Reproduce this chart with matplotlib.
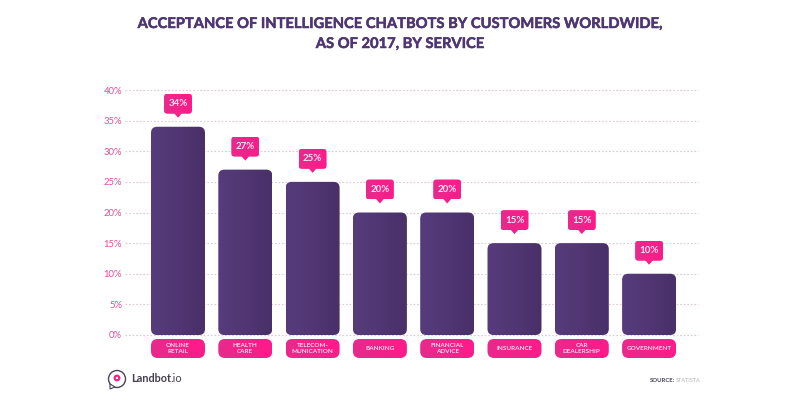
import numpy as np
import matplotlib
matplotlib.use('Agg')
import matplotlib.pyplot as plt
import matplotlib.patheffects as pe
from matplotlib.patches import FancyBboxPatch, Polygon, Circle
from matplotlib.colors import LinearSegmentedColormap

plt.rcParams['font.family'] = ['Lato', 'DejaVu Sans']

# Dados do grafico
categorias = ['ONLINE\nRETAIL', 'HEALTH\nCARE', 'TELECOM-\nMUNICATION', 'BANKING',
              'FINANCIAL\nADVICE', 'INSURANCE', 'CAR\nDEALERSHIP', 'GOVERNMENT']
valores = [34, 27, 25, 20, 20, 15, 15, 10]
rotulos = ['34%', '27%', '25%', '20%', '20%', '15%', '15%', '10%']
ticks_y = [0, 5, 10, 15, 20, 25, 30, 35, 40]
ticks_y_rotulos = ['0%', '5%', '10%', '15%', '20%', '25%', '30%', '35%', '40%']

ROXO = '#4f3672'
ROSA = '#f0218a'
W, H = 800, 400

cmap_barra = LinearSegmentedColormap.from_list('barra', ['#573c7c', '#4a3069'])
cmap_rosa = LinearSegmentedColormap.from_list('rosa', ['#e82a8c', '#ff1a8a'])
grad = np.linspace(0, 1, 64).reshape(1, -1)

fig = plt.figure(figsize=(8, 4), dpi=100, facecolor='white')

# Eixo principal: 0% em y=335px, 40% em y=90px, grade de 125 a 698px
ax = fig.add_axes([125 / W, 1 - 335 / H, (698 - 125) / W, (335 - 90) / H])
px_x = 67.3
px_y = (335 - 90) / 40
aspecto = px_x / px_y
xlim = (-(178 - 125) / px_x, (698 - 178) / px_x)


# Retangulo arredondado preenchido com gradiente horizontal
def caixa_gradiente(x0, y0, larg, alt, raio, cmap, zorder):
    caixa = FancyBboxPatch((x0, y0), larg, alt, boxstyle=f'round,pad=0,rounding_size={raio}',
                           mutation_aspect=aspecto, linewidth=0, facecolor='none',
                           clip_on=False, zorder=zorder)
    ax.add_patch(caixa)
    img = ax.imshow(grad, extent=(x0, x0 + larg, y0, y0 + alt), cmap=cmap, aspect='auto',
                    zorder=zorder)
    img.set_clip_box(fig.bbox)
    img.set_clip_path(caixa)


larg_barra = 54 / px_x
for i, v in enumerate(valores):
    caixa_gradiente(i - larg_barra / 2, 0, larg_barra, v, 0.09, cmap_barra, 3)

    # balao com o valor
    larg_balao = 28 / px_x
    base = v + 13 / px_y
    caixa_gradiente(i - larg_balao / 2, base, larg_balao, 20 / px_y, 0.05, cmap_rosa, 4)
    ax.add_patch(Polygon([(i - 4 / px_x, base + 0.1), (i + 4 / px_x, base + 0.1), (i, base - 4 / px_y)],
                         closed=True, facecolor=ROSA, linewidth=0, zorder=4, clip_on=False))
    ax.text(i, base + 10 / px_y, rotulos[i], ha='center', va='center', color='#ffe6f2',
            fontsize=7, fontweight='bold', zorder=5)

    # etiqueta da categoria
    caixa_gradiente(i - larg_barra / 2, -23 / px_y, larg_barra, 19 / px_y, 0.1, cmap_rosa, 3)
    ax.text(i, -13.5 / px_y, categorias[i], ha='center', va='center', color='#fbd5e8',
            fontsize=4.6, fontweight='bold', linespacing=1.15, zorder=5,
            clip_on=False)

ax.set_xlim(xlim)
ax.set_ylim(0, 40)
ax.set_xticks([])
ax.set_yticks(ticks_y)
ax.set_yticklabels(ticks_y_rotulos, fontsize=6.8, color='#e0509a')
ax.tick_params(axis='y', length=0, pad=2)
ax.grid(axis='y', linestyle=(0, (1.6, 1.6)), color='#decdd8', linewidth=0.8, clip_on=False)
ax.set_axisbelow(True)
for lado in ax.spines.values():
    lado.set_visible(False)
ax.patch.set_alpha(0)

# Titulo
contorno = [pe.withStroke(linewidth=0.35, foreground=ROXO)]
fig.text(400 / W, 1 - 24 / H, 'ACCEPTANCE OF INTELLIGENCE CHATBOTS BY CUSTOMERS WORLDWIDE,',
         ha='center', va='center', color=ROXO, fontsize=10.6, fontweight='bold', path_effects=contorno)
fig.text(400 / W, 1 - 44 / H, 'AS OF 2017, BY SERVICE',
         ha='center', va='center', color=ROXO, fontsize=10.6, fontweight='bold', path_effects=contorno)

# Logo e fonte, em coordenadas de pixel
ov = fig.add_axes([0, 0, 1, 1], zorder=-1)
ov.set_xlim(0, W)
ov.set_ylim(H, 0)
ov.axis('off')
ov.add_patch(Circle((117, 379), 8.5, facecolor='white', edgecolor='#4a4458', linewidth=1))
ov.add_patch(Polygon([(110, 384), (110, 389), (115, 387)], closed=True, facecolor='white',
                     edgecolor='#4a4458', linewidth=0.8))
ov.add_patch(Circle((117, 378), 3.4, facecolor='#f0218a', linewidth=0))
ov.add_patch(Circle((117, 378), 1.2, facecolor='white', linewidth=0))
fig.text(131 / W, 1 - 379 / H, 'Landbot', ha='left', va='center', color='#45404f',
         fontsize=7.8, fontweight='bold')
fig.text(170 / W, 1 - 379 / H, '.io', ha='left', va='center', color='#45404f', fontsize=7.8)
fig.text(650 / W, 1 - 381 / H, 'SOURCE:', ha='left', va='center', color='#4a4458',
         fontsize=4.3, fontweight='bold')
fig.text(676 / W, 1 - 381 / H, 'STATISTA', ha='left', va='center', color='#b4b4b4', fontsize=4.1)

fig.savefig('out.png', dpi=100, facecolor='white')
